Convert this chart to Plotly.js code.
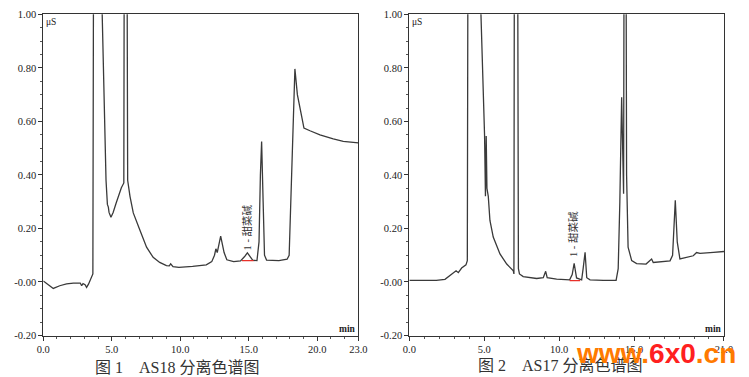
<!DOCTYPE html>
<html>
<head>
<meta charset="utf-8">
<script src="https://cdn.plot.ly/plotly-3.0.1.min.js"></script>
<style>html,body{margin:0;padding:0;background:#fff;}#chart{width:749px;height:377px;}</style>
</head>
<body>
<div id="chart"></div>
<script>
// AS18 chromatogram (left)
var leftTime = [0, 0.4, 0.73, 1.2, 1.7, 2.2, 2.7, 2.8, 2.9, 3.05, 3.16, 3.3, 3.45, 3.55, 3.62, 3.68, 3.8, 4.1, 4.3, 4.58, 4.68, 4.75, 4.8, 4.94, 5.1, 5.32, 5.7, 5.88, 5.92, 6.0, 6.1, 6.16, 6.33, 6.57, 7.05, 7.54, 8.02, 8.5, 8.99, 9.2, 9.3, 9.47, 9.9, 10.9, 11.9, 12.3, 12.5, 12.6, 12.7, 12.85, 12.95, 13.2, 13.4, 13.9, 14.4, 14.7, 14.9, 15.1, 15.3, 15.6, 15.75, 15.85, 15.94, 16.05, 16.15, 16.3, 17.2, 17.8, 17.95, 18.37, 18.55, 18.86, 19.03, 19.47, 20.2, 21.17, 21.9, 23.0];
var leftSignal = [0.004, -0.012, -0.024, -0.014, -0.007, -0.004, -0.004, -0.014, -0.006, -0.01, -0.02, -0.008, 0.01, 0.025, 0.03, 1.5, 4, 1.6, 1.0, 0.38, 0.29, 0.28, 0.26, 0.242, 0.26, 0.295, 0.352, 0.37, 1.5, 4, 1.5, 0.38, 0.32, 0.258, 0.194, 0.13, 0.092, 0.073, 0.061, 0.06, 0.068, 0.057, 0.055, 0.058, 0.064, 0.076, 0.1, 0.124, 0.11, 0.14, 0.171, 0.11, 0.083, 0.076, 0.079, 0.095, 0.109, 0.095, 0.081, 0.08, 0.15, 0.4, 0.525, 0.3, 0.1, 0.082, 0.08, 0.085, 0.1, 0.796, 0.70, 0.62, 0.575, 0.565, 0.55, 0.535, 0.525, 0.52];
var leftBaseTime = [14.5, 15.35];
var leftBaseSignal = [0.08, 0.08];

// AS17 chromatogram (right)
var rightTime = [0, 1.8, 2.38, 2.83, 3.12, 3.27, 3.49, 3.78, 3.87, 3.92, 4.2, 4.6, 4.78, 5.02, 5.08, 5.13, 5.18, 5.27, 5.38, 5.6, 6.05, 6.5, 6.94, 6.98, 7.03, 7.1, 7.2, 7.28, 7.35, 7.6, 8.5, 8.94, 9.1, 9.2, 9.83, 10.7, 10.87, 11.0, 11.16, 11.5, 11.6, 11.73, 11.84, 12.06, 12.95, 13.8, 13.94, 14.05, 14.17, 14.3, 14.39, 14.5, 14.6, 14.84, 15.17, 15.8, 16.17, 16.28, 17.4, 17.57, 17.75, 17.88, 18.06, 18.95, 19.17, 19.4, 20.3, 21.0];
var rightSignal = [0.006, 0.006, 0.01, 0.029, 0.042, 0.035, 0.052, 0.064, 0.08, 1.5, 4, 1.5, 1.0, 0.55, 0.32, 0.545, 0.35, 0.32, 0.23, 0.168, 0.105, 0.067, 0.042, 0.03, 2, 5, 2, 0.05, 0.03, 0.02, 0.013, 0.016, 0.04, 0.016, 0.011, 0.008, 0.028, 0.07, 0.015, 0.008, 0.05, 0.111, 0.016, 0.008, 0.006, 0.006, 0.05, 0.3, 0.69, 0.33, 3, 0.4, 0.13, 0.08, 0.069, 0.067, 0.086, 0.073, 0.079, 0.1, 0.305, 0.15, 0.086, 0.098, 0.11, 0.107, 0.111, 0.114];
var rightBaseTime = [10.7, 11.4];
var rightBaseSignal = [0.005, 0.005];

var yTickVals = [-0.2, 0, 0.2, 0.4, 0.6, 0.8, 1.0];
var yTickText = ['-0.20', '-0.00', '0.20', '0.40', '0.60', '0.80', '1.00'];
var leftXTickVals = [0, 5, 10, 15, 20, 23];
var leftXTickText = ['0.0', '5.0', '10.0', '15.0', '20.0', '23.0'];
var rightXTickVals = [0, 5, 10, 15, 21];
var rightXTickText = ['0.0', '5.0', '10.0', '15.0', '21.0'];

var peakLabel = '1 - 甜菜碱';
var captionLeft = '图 1　AS18 分离色谱图';
var captionRight = '图 2　AS17 分离色谱图';
var watermark = '<span style="color:#ff7a00">www.</span><span style="color:#ff2020">6x0</span><span style="color:#ff7a00">.cn</span>';

var lineColor = '#3a3a3a';
var serif = 'Liberation Serif, Times New Roman, serif';
var cjk = 'Liberation Serif, Noto Sans CJK SC, serif';

var traces = [
  {x: leftTime, y: leftSignal, xaxis: 'x', yaxis: 'y', mode: 'lines', line: {color: lineColor, width: 1.3}, hoverinfo: 'skip'},
  {x: leftBaseTime, y: leftBaseSignal, xaxis: 'x', yaxis: 'y', mode: 'lines', line: {color: '#e8302a', width: 1.3}, hoverinfo: 'skip'},
  {x: rightTime, y: rightSignal, xaxis: 'x2', yaxis: 'y2', mode: 'lines', line: {color: lineColor, width: 1.3}, hoverinfo: 'skip'},
  {x: rightBaseTime, y: rightBaseSignal, xaxis: 'x2', yaxis: 'y2', mode: 'lines', line: {color: '#e8302a', width: 1.3}, hoverinfo: 'skip'}
];

function xAxis(domain, range, vals, text, anchor) {
  return {domain: domain, range: range, anchor: anchor, showgrid: false, zeroline: false,
    showline: true, mirror: true, linecolor: '#333', linewidth: 1,
    ticks: 'outside', ticklen: 4, tickcolor: '#333', tickwidth: 1,
    tickvals: vals, ticktext: text, tickfont: {family: serif, size: 10.5, color: '#222'},
    minor: {dtick: 1, ticks: 'outside', ticklen: 2, tickcolor: '#555', showgrid: false}};
}
function yAxis(anchor) {
  return {domain: [0.110, 0.962], range: [-0.2, 1.0], anchor: anchor, showgrid: false, zeroline: false,
    showline: true, mirror: true, linecolor: '#333', linewidth: 1,
    ticks: 'outside', ticklen: 4, tickcolor: '#333', tickwidth: 1,
    tickvals: yTickVals, ticktext: yTickText, tickfont: {family: serif, size: 10.5, color: '#222'},
    minor: {dtick: 0.05, tick0: 0, ticks: 'outside', ticklen: 2, tickcolor: '#555', showgrid: false}};
}

var layout = {
  width: 749, height: 377,
  margin: {l: 0, r: 0, t: 0, b: 0},
  paper_bgcolor: '#fff', plot_bgcolor: '#fff',
  showlegend: false,
  xaxis: xAxis([0.0578, 0.4784], [0, 23], leftXTickVals, leftXTickText, 'y'),
  yaxis: yAxis('x'),
  xaxis2: xAxis([0.5465, 0.9666], [0, 21], rightXTickVals, rightXTickText, 'y2'),
  yaxis2: yAxis('x2'),
  annotations: [
    {xref: 'x domain', yref: 'y domain', x: 0.003, y: 0.997, xanchor: 'left', yanchor: 'top', text: 'μS', showarrow: false, font: {family: serif, size: 9.5, color: '#222'}},
    {xref: 'x domain', yref: 'y domain', x: 1.0, y: 0.0, xanchor: 'right', yanchor: 'bottom', text: '<b>min</b>', showarrow: false, font: {family: serif, size: 9.5, color: '#222'}},
    {xref: 'x2 domain', yref: 'y2 domain', x: 0.003, y: 0.997, xanchor: 'left', yanchor: 'top', text: 'μS', showarrow: false, font: {family: serif, size: 9.5, color: '#222'}},
    {xref: 'x2 domain', yref: 'y2 domain', x: 1.0, y: 0.0, xanchor: 'right', yanchor: 'bottom', text: '<b>min</b>', showarrow: false, font: {family: serif, size: 9.5, color: '#222'}},
    {xref: 'x', yref: 'y', x: 14.9, y: 0.205, text: peakLabel, textangle: -90, showarrow: false, font: {family: cjk, size: 10.5, color: '#333'}},
    {xref: 'x2', yref: 'y2', x: 10.94, y: 0.18, text: peakLabel, textangle: -90, showarrow: false, font: {family: cjk, size: 10.5, color: '#333'}},
    {xref: 'paper', yref: 'paper', x: 177 / 749, y: 1 - 367 / 377, xanchor: 'center', yanchor: 'middle', text: captionLeft, showarrow: false, font: {family: cjk, size: 16, color: '#333'}},
    {xref: 'paper', yref: 'paper', x: 560 / 749, y: 1 - 365 / 377, xanchor: 'center', yanchor: 'middle', text: captionRight, showarrow: false, font: {family: cjk, size: 16, color: '#333'}},
    {xref: 'paper', yref: 'paper', x: 656 / 749, y: 1 - 353 / 377, xanchor: 'center', yanchor: 'middle', text: '<b>' + watermark + '</b>', showarrow: false, font: {family: 'Liberation Sans, Arial, sans-serif', size: 28, color: '#ff7a00'}}
  ]
};

Plotly.newPlot('chart', traces, layout, {staticPlot: true, displayModeBar: false});
</script>
</body>
</html>
